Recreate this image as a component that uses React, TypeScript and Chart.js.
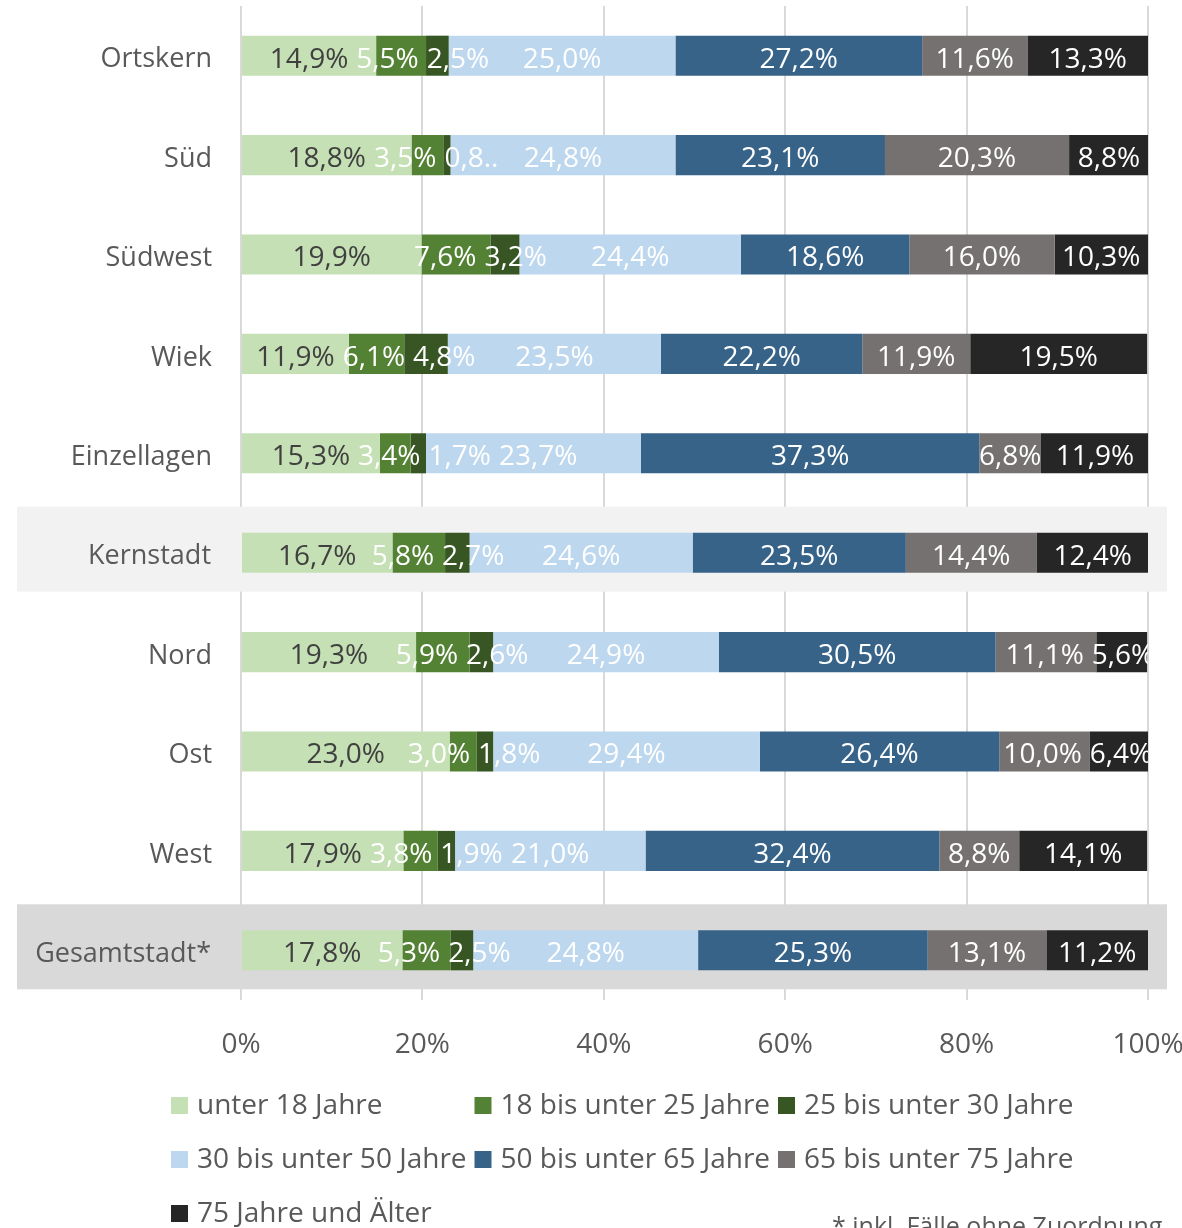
import React, { useEffect, useRef } from 'react';
import { Chart, registerables } from 'chart.js';
Chart.register(...registerables);

const FONT = '"Open Sans", "Noto Sans", sans-serif';

const categories = ['Ortskern', 'Süd', 'Südwest', 'Wiek', 'Einzellagen', 'Kernstadt', 'Nord', 'Ost', 'West', 'Gesamtstadt*'];
const seriesNames = [
  'unter 18 Jahre',
  '18 bis unter 25 Jahre',
  '25 bis unter 30 Jahre',
  '30 bis unter 50 Jahre',
  '50 bis unter 65 Jahre',
  '65 bis unter 75 Jahre',
  '75 Jahre und Älter',
];
const under18 = [14.9, 18.8, 19.9, 11.9, 15.3, 16.7, 19.3, 23.0, 17.9, 17.8];
const age18to25 = [5.5, 3.5, 7.6, 6.1, 3.4, 5.8, 5.9, 3.0, 3.8, 5.3];
const age25to30 = [2.5, 0.8, 3.2, 4.8, 1.7, 2.7, 2.6, 1.8, 1.9, 2.5];
const age30to50 = [25.0, 24.8, 24.4, 23.5, 23.7, 24.6, 24.9, 29.4, 21.0, 24.8];
const age50to65 = [27.2, 23.1, 18.6, 22.2, 37.3, 23.5, 30.5, 26.4, 32.4, 25.3];
const age65to75 = [11.6, 20.3, 16.0, 11.9, 6.8, 14.4, 11.1, 10.0, 8.8, 13.1];
const age75plus = [13.3, 8.8, 10.3, 19.5, 11.9, 12.4, 5.6, 6.4, 14.1, 11.2];
const seriesValues = [under18, age18to25, age25to30, age30to50, age50to65, age65to75, age75plus];
const seriesColors = ['#c5e0b4', '#548235', '#375623', '#bdd7ee', '#376389', '#767171', '#262626'];
const labelColors = ['#404040', '#ffffff', '#ffffff', '#ffffff', '#ffffff', '#ffffff', '#ffffff'];
const xTicks = [0, 20, 40, 60, 80, 100];
const highlightRows = [
  { category: 'Kernstadt', color: '#f2f2f2' },
  { category: 'Gesamtstadt*', color: '#d9d9d9' },
];
const footnote = '* inkl. Fälle ohne Zuordnung';

const TEXT_COLOR = '#595959';
const CAT_FONT_SIZE = 27;
const CAT_PAD = 21;
const CAT_OFFSET = 4;

const fmt = (v: number) => (v < 1 ? v.toFixed(1).replace('.', ',') + '..' : v.toFixed(1).replace('.', ',') + '%');

const bandPlugin = {
  id: 'bands',
  beforeDatasetsDraw(chart: any) {
    const { ctx, chartArea } = chart;
    const y = chart.scales.y;
    ctx.save();
    highlightRows.forEach((h) => {
      const idx = categories.indexOf(h.category);
      const cy = y.getPixelForValue(idx);
      ctx.fillStyle = h.color;
      ctx.fillRect(17, cy - 46, 1150, 85);
      // redraw the category label on top of the band
      ctx.font = `${CAT_FONT_SIZE}px ${FONT}`;
      ctx.fillStyle = TEXT_COLOR;
      ctx.textAlign = 'right';
      ctx.textBaseline = 'middle';
      ctx.fillText(h.category, chartArea.left - 30, cy + CAT_OFFSET);
    });
    ctx.restore();
  },
};

const labelPlugin = {
  id: 'segLabels',
  afterDatasetsDraw(chart: any) {
    const { ctx, chartArea } = chart;
    ctx.save();
    ctx.beginPath();
    ctx.rect(0, chartArea.top, chartArea.right, chartArea.bottom - chartArea.top);
    ctx.clip();
    ctx.font = `28px ${FONT}`;
    ctx.textBaseline = 'middle';
    ctx.textAlign = 'left';
    categories.forEach((_, i) => {
      const items: any[] = [];
      seriesValues.forEach((vals, d) => {
        const el = chart.getDatasetMeta(d).data[i];
        const text = fmt(vals[i]);
        const w = ctx.measureText(text).width;
        const c = (el.x + el.base) / 2;
        items.push({ text, w, left: c - w / 2, y: el.y, color: labelColors[d] });
      });
      const gap = 8;
      for (let it = 0; it < 20; it++) {
        for (let k = 0; k < items.length - 1; k++) {
          const a = items[k];
          const b = items[k + 1];
          const ov = a.left + a.w + gap - b.left;
          if (ov > 0) {
            if (k === 0) {
              b.left += ov;
            } else {
              a.left -= ov / 2;
              b.left += ov / 2;
            }
          }
        }
      }
      items.forEach((it) => {
        ctx.fillStyle = it.color;
        ctx.fillText(it.text, it.left, it.y + 4);
      });
    });
    ctx.restore();
  },
};

const legendPlugin = {
  id: 'gridLegend',
  afterDraw(chart: any) {
    const { ctx } = chart;
    ctx.save();
    ctx.font = `28px ${FONT}`;
    ctx.textBaseline = 'middle';
    ctx.textAlign = 'left';
    seriesNames.forEach((name, i) => {
      const col = i % 3;
      const row = Math.floor(i / 3);
      const x = 171 + col * 303.5;
      const y = 1105 + row * 54;
      ctx.fillStyle = seriesColors[i];
      ctx.fillRect(x, y - 8, 17, 17);
      ctx.fillStyle = TEXT_COLOR;
      ctx.fillText(name, x + 26, y + 1);
    });
    ctx.font = `25px ${FONT}`;
    ctx.fillStyle = TEXT_COLOR;
    ctx.fillText(footnote, 832, 1228);
    ctx.restore();
  },
};

export default function App() {
  const ref = useRef<HTMLCanvasElement>(null);
  useEffect(() => {
    const chart = new Chart(ref.current as HTMLCanvasElement, {
      type: 'bar',
      data: {
        labels: categories,
        datasets: seriesNames.map((n, i) => ({
          label: n,
          data: seriesValues[i],
          backgroundColor: seriesColors[i],
          borderWidth: 0,
          barPercentage: 0.403,
          categoryPercentage: 1,
          clip: 0,
        })),
      },
      options: {
        indexAxis: 'y',
        responsive: false,
        animation: false,
        layout: { padding: { top: 6, right: 34, bottom: 158, left: 0 } },
        plugins: { legend: { display: false }, tooltip: { enabled: false } },
        scales: {
          x: {
            stacked: true,
            min: 0,
            max: 100,
            afterBuildTicks: (s: any) => {
              s.ticks = xTicks.map((v) => ({ value: v }));
            },
            ticks: {
              callback: (v: any) => v + '%',
              color: TEXT_COLOR,
              font: { family: FONT, size: 28 },
              padding: 28,
              maxRotation: 0,
              autoSkip: false,
            },
            grid: { color: '#d9d9d9', lineWidth: 2, drawTicks: false },
            border: { display: false },
            afterFit: (s: any) => {
              s.height = 70;
              s.paddingLeft = 0;
              s.paddingRight = 0;
              s.paddingTop = 0;
              s.paddingBottom = 0;
            },
          },
          y: {
            stacked: true,
            grid: { display: false },
            border: { display: false },
            ticks: {
              color: TEXT_COLOR,
              font: { family: FONT, size: CAT_FONT_SIZE },
              padding: CAT_PAD,
              autoSkip: false,
              labelOffset: CAT_OFFSET,
            },
            afterFit: (s: any) => {
              s.width = 241;
              s.paddingLeft = 0;
              s.paddingRight = 0;
              s.paddingTop = 0;
              s.paddingBottom = 0;
            },
          },
        },
      } as any,
      plugins: [bandPlugin, labelPlugin, legendPlugin],
    });
    return () => chart.destroy();
  }, []);
  return (
    <div style={{ position: 'absolute', left: 0, top: 0 }}>
      <canvas ref={ref} width={1182} height={1228} style={{ display: 'block' }} />
    </div>
  );
}
